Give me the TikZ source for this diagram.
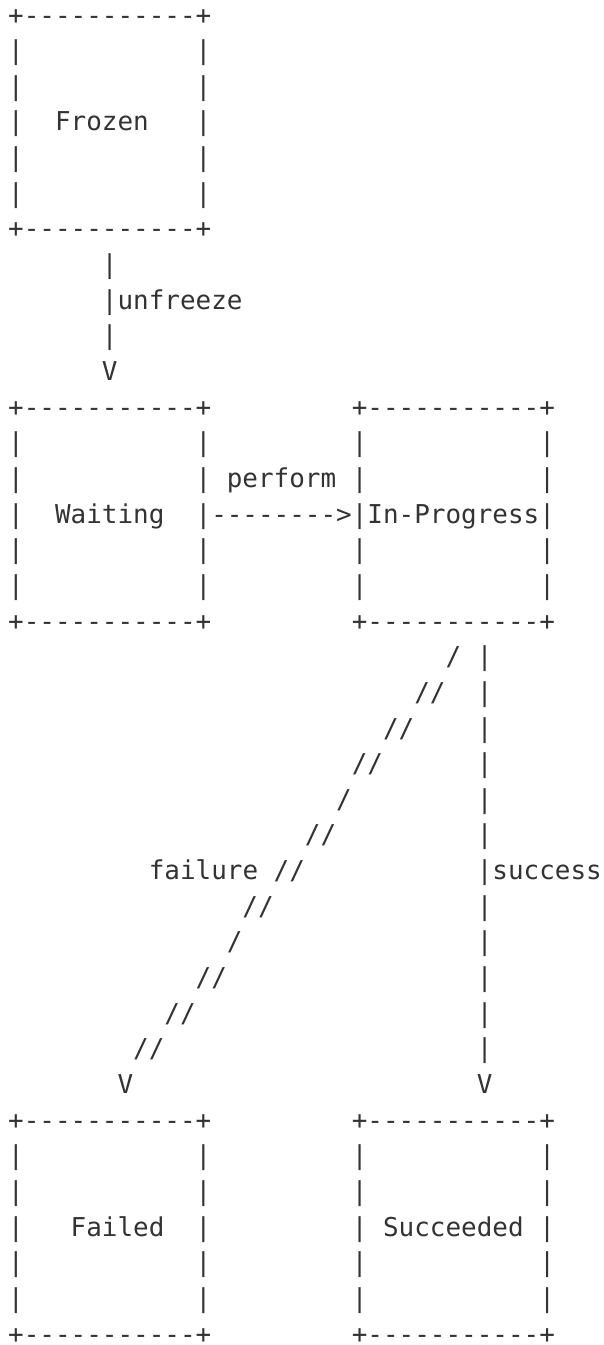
\documentclass[tikz,border=0pt]{standalone}
\usepackage{fontspec}
\setmonofont{DejaVu Sans Mono}
\definecolor{ink}{HTML}{333333}
\tikzset{
  g/.style={anchor=base west, inner sep=0pt, outer sep=0pt, text=ink,
    font=\ttfamily\fontsize{25.95pt}{35.65pt}\selectfont}
}
% place text #4 at grid column #2, line #3, node name #1
\newcommand\gtx[4]{\node[g] (#1) at ({8.19pt+15.62pt*(#2)},{-(24pt+35.65pt*(#3))}) {#4};}
% ascii box: name, col, row, label col, label
\newcommand\asciibox[5]{%
  \gtx{#1-t}{#2}{#3}{+-----------+}
  \gtx{#1-l1}{#2}{#3+1}{|}\gtx{#1-r1}{#2+12}{#3+1}{|}
  \gtx{#1-l2}{#2}{#3+2}{|}\gtx{#1-r2}{#2+12}{#3+2}{|}
  \gtx{#1-l3}{#2}{#3+3}{|}\gtx{#1}{#4}{#3+3}{#5}\gtx{#1-r3}{#2+12}{#3+3}{|}
  \gtx{#1-l4}{#2}{#3+4}{|}\gtx{#1-r4}{#2+12}{#3+4}{|}
  \gtx{#1-l5}{#2}{#3+5}{|}\gtx{#1-r5}{#2+12}{#3+5}{|}
  \gtx{#1-b}{#2}{#3+6}{+-----------+}
}
\begin{document}
\begin{tikzpicture}
\useasboundingbox[fill=white] (0,0) rectangle (604pt,-1345pt);
% boxes
\asciibox{frozen}{0}{0}{3}{Frozen}
\asciibox{waiting}{0}{11}{3}{Waiting}
\asciibox{inprog}{22}{11}{23}{In-Progress}
\asciibox{failed}{0}{31}{4}{Failed}
\asciibox{succeeded}{22}{31}{24}{Succeeded}
% unfreeze
\gtx{uf1}{6}{7}{|}
\gtx{uf2}{6}{8}{|unfreeze}
\gtx{uf3}{6}{9}{|}
\gtx{ufv}{6}{10}{V}
% perform
\gtx{pflabel}{14}{13}{perform}
\gtx{pfarrow}{13}{14}{-------->}
% failure
\gtx{fa18}{28}{18}{/}
\gtx{fa19}{26}{19}{//}
\gtx{fa20}{24}{20}{//}
\gtx{fa21}{22}{21}{//}
\gtx{fa22}{21}{22}{/}
\gtx{fa23}{19}{23}{//}
\gtx{falabel}{9}{24}{failure}
\gtx{fa24}{17}{24}{//}
\gtx{fa25}{15}{25}{//}
\gtx{fa26}{14}{26}{/}
\gtx{fa27}{12}{27}{//}
\gtx{fa28}{10}{28}{//}
\gtx{fa29}{8}{29}{//}
\gtx{fav}{7}{30}{V}
% success
\gtx{su18}{30}{18}{|}
\gtx{su19}{30}{19}{|}
\gtx{su20}{30}{20}{|}
\gtx{su21}{30}{21}{|}
\gtx{su22}{30}{22}{|}
\gtx{su23}{30}{23}{|}
\gtx{su24}{30}{24}{|success}
\gtx{su25}{30}{25}{|}
\gtx{su26}{30}{26}{|}
\gtx{su27}{30}{27}{|}
\gtx{su28}{30}{28}{|}
\gtx{su29}{30}{29}{|}
\gtx{suv}{30}{30}{V}
\end{tikzpicture}
\end{document}
